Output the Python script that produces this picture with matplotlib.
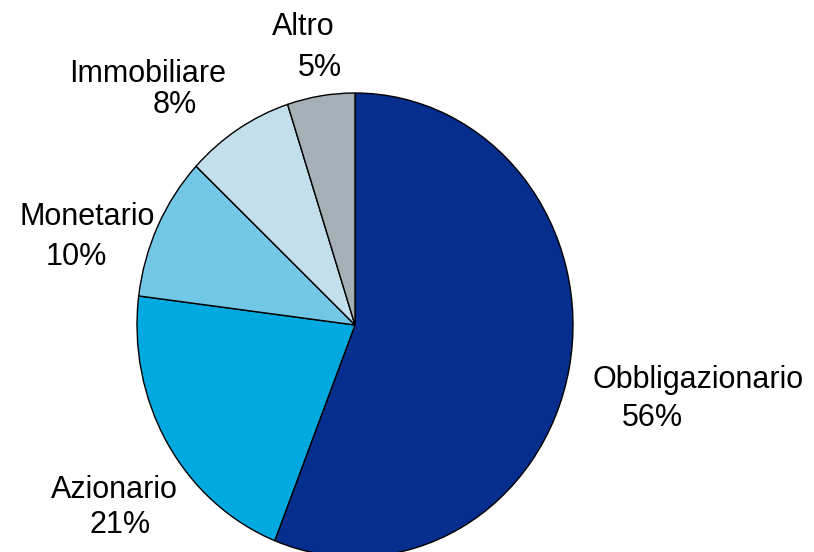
import matplotlib.pyplot as plt

# asset allocation
categories = ["Obbligazionario", "Azionario", "Monetario", "Immobiliare", "Altro"]
shares = [56, 21, 10, 8, 5]
colors = ["#062E8F", "#00A9DF", "#72C6E6", "#C3DFEB", "#A5AFB6"]

# label anchors in pixels: (name x, name y, pct x, pct y)
label_pos = [
    (698, 380, 652, 418),
    (114, 490, 120, 525),
    (87, 217, 76, 257),
    (148, 74, 175, 105),
    (303, 27, 320, 68),
]

W, H = 814, 552
fig = plt.figure(figsize=(W / 100, H / 100), dpi=100)
plt.rcParams["font.family"] = ["Liberation Sans", "DejaVu Sans"]

# pie is slightly taller than wide
cx, cy, rx, ry = 355, 325, 218, 232
ax = fig.add_axes([(cx - rx) / W, (H - cy - ry) / H, 2 * rx / W, 2 * ry / H])
ax.pie(shares, colors=colors, startangle=90, counterclock=False,
       wedgeprops=dict(edgecolor="black", linewidth=1.0))
ax.set_aspect("auto")
ax.set_xlim(-1, 1)
ax.set_ylim(-1, 1)
ax.axis("off")

for name, val, (nx, ny, px, py) in zip(categories, shares, label_pos):
    fig.text(nx / W, 1 - ny / H, name, ha="center", va="center", fontsize=22)
    fig.text(px / W, 1 - py / H, f"{val}%", ha="center", va="center", fontsize=22)

fig.savefig("out.png", dpi=100)
